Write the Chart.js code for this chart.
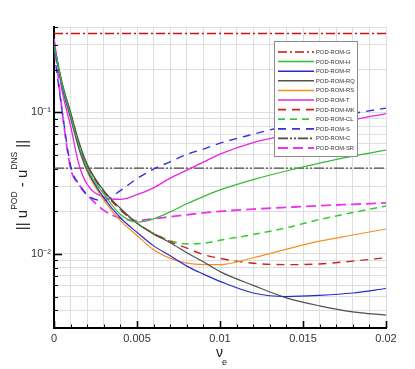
<!DOCTYPE html>
<html><head><meta charset="utf-8">
<script src="https://cdn.jsdelivr.net/npm/chart.js@4.4.1/dist/chart.umd.min.js"></script>
<style>html,body{margin:0;padding:0;background:#fff;}#wrap{width:415px;height:369px;position:relative;}</style>
</head><body><div id="wrap"><canvas id="c" width="415" height="369"></canvas></div>
<script>
// ---- data ----
const nu = [0, 0.0005, 0.001, 0.0015, 0.002, 0.003, 0.004, 0.005, 0.006, 0.007, 0.008, 0.009, 0.01, 0.012, 0.014, 0.016, 0.018, 0.02];
const romG  = [0.36, 0.36, 0.36, 0.36, 0.36, 0.36, 0.36, 0.36, 0.36, 0.36, 0.36, 0.36, 0.36, 0.36, 0.36, 0.36, 0.36, 0.36];
const romH  = [0.3, 0.155, 0.095, 0.058, 0.04, 0.0265, 0.019, 0.0168, 0.0177, 0.0198, 0.0226, 0.0254, 0.0283, 0.0335, 0.0385, 0.0437, 0.049, 0.054];
const romR  = [0.3, 0.15, 0.092, 0.056, 0.039, 0.025, 0.018, 0.0142, 0.0114, 0.0097, 0.0082, 0.0072, 0.0064, 0.0053, 0.005, 0.0051, 0.0053, 0.0057];
const romRQ = [0.3, 0.16, 0.1, 0.062, 0.043, 0.028, 0.021, 0.0165, 0.0138, 0.012, 0.0102, 0.0088, 0.0075, 0.006, 0.0049, 0.0043, 0.0039, 0.0037];
const romRS = [0.3, 0.15, 0.09, 0.055, 0.038, 0.024, 0.0172, 0.0135, 0.0107, 0.0093, 0.0086, 0.0084, 0.0084, 0.0094, 0.0108, 0.0123, 0.0136, 0.015];
const romT  = [0.33, 0.14, 0.08, 0.043, 0.031, 0.0252, 0.0243, 0.0262, 0.0293, 0.0343, 0.039, 0.0445, 0.0506, 0.061, 0.069, 0.078, 0.088, 0.098];
const romMK = [0.3, 0.155, 0.097, 0.06, 0.042, 0.0275, 0.0205, 0.0165, 0.014, 0.0122, 0.011, 0.0099, 0.0093, 0.0086, 0.0084, 0.0085, 0.0089, 0.0094];
const romCL = [0.3, 0.155, 0.097, 0.06, 0.042, 0.0275, 0.0205, 0.0165, 0.014, 0.0124, 0.0118, 0.0119, 0.0125, 0.0137, 0.0153, 0.0175, 0.0196, 0.0218];
const romS  = [0.27, 0.1, 0.042, 0.031, 0.026, 0.0238, 0.028, 0.034, 0.0397, 0.0447, 0.0504, 0.055, 0.0605, 0.07, 0.08, 0.089, 0.098, 0.107];
const romC  = [0.0403, 0.0403, 0.0403, 0.0403, 0.0403, 0.0403, 0.0403, 0.0403, 0.0403, 0.0403, 0.0403, 0.0403, 0.0403, 0.0403, 0.0403, 0.0403, 0.0403, 0.0403];
const romSR = [0.33, 0.1, 0.04, 0.031, 0.0262, 0.0203, 0.0179, 0.0172, 0.0177, 0.0183, 0.0189, 0.0195, 0.02, 0.0207, 0.0213, 0.0219, 0.0224, 0.0229];

const seriesNames = ['POD-ROM-G','POD-ROM-H','POD-ROM-R','POD-ROM-RQ','POD-ROM-RS','POD-ROM-T','POD-ROM-MK','POD-ROM-CL','POD-ROM-S','POD-ROM-C','POD-ROM-SR'];
const seriesValues = [romG, romH, romR, romRQ, romRS, romT, romMK, romCL, romS, romC, romSR];

const xMajor = [0, 0.005, 0.01, 0.015, 0.02];
const xTickLabels = ['0', '0.005', '0.01', '0.015', '0.02'];
const yMajor = [0.01, 0.1];
const yTickLabels = ['10\u207B\u00B2', '10\u207B\u00B9'];
const yGrid = [0.003,0.004,0.005,0.006,0.007,0.008,0.009,0.01,0.02,0.03,0.04,0.05,0.06,0.07,0.08,0.09,0.1,0.2,0.3,0.4];

// ---- styles ----
const styles = [
  {c:'#cc1111', d:[9,3,2,3], w:1.3},
  {c:'#33bb33', d:[], w:1.2},
  {c:'#2a2acc', d:[], w:1.2},
  {c:'#505050', d:[], w:1.2},
  {c:'#f5901e', d:[], w:1.2},
  {c:'#e626e6', d:[], w:1.3},
  {c:'#cc2222', d:[8,6], w:1.4},
  {c:'#33cc33', d:[7,5], w:1.5},
  {c:'#3333dd', d:[8,6], w:1.4},
  {c:'#4a4a4a', d:[10,2,2,2,2,2], w:1.3},
  {c:'#ee33ee', d:[10,5], w:1.8}
];
const xGrid = [];
for (let i = 0; i <= 20; i++) xGrid.push(+(i * 0.001).toFixed(3));

const datasets = seriesNames.map((n, k) => ({
  label: n,
  data: nu.map((x, i) => ({x: x, y: seriesValues[k][i]})),
  borderColor: styles[k].c,
  borderDash: styles[k].d,
  borderWidth: styles[k].w,
  pointRadius: 0,
  fill: false,
  cubicInterpolationMode: 'monotone'
}));

const FONT = 'Liberation Sans, Arial, Helvetica, sans-serif';

const decor = {
  id: 'decor',
  afterDatasetsDraw(chart) {
    const {ctx} = chart;
    // legend box
    const bx = 274, by = 41, bw = 83, bh = 115;
    ctx.save();
    ctx.fillStyle = '#fff';
    ctx.fillRect(bx, by, bw, bh);
    ctx.strokeStyle = '#8a8a8a';
    ctx.lineWidth = 1;
    ctx.strokeRect(bx + 0.5, by + 0.5, bw, bh);
    chart.data.datasets.forEach((ds, i) => {
      const yy = by + 11 + i * 9.6;
      ctx.strokeStyle = ds.borderColor;
      ctx.lineWidth = Math.max(1.5, ds.borderWidth + 0.3);
      ctx.setLineDash(ds.borderDash.length ? ds.borderDash : []);
      ctx.beginPath(); ctx.moveTo(bx + 4, yy); ctx.lineTo(bx + 40, yy); ctx.stroke();
      ctx.setLineDash([]);
      ctx.fillStyle = '#333';
      ctx.font = '5.8px ' + FONT;
      ctx.textBaseline = 'middle';
      ctx.fillText(ds.label, bx + 42, yy + 0.3);
    });
    ctx.restore();
  },
  afterDraw(chart) {
    const {ctx, chartArea: a, scales: {x, y}} = chart;
    ctx.save();
    ctx.strokeStyle = '#000';
    xGrid.forEach(v => {
      const px = Math.round(x.getPixelForValue(v)) + 0.5;
      const major = xMajor.some(m => Math.abs(m - v) < 1e-9);
      ctx.lineWidth = major ? 1.6 : 1;
      ctx.beginPath(); ctx.moveTo(px, a.bottom); ctx.lineTo(px, a.bottom - (major ? 7 : 3.5)); ctx.stroke();
    });
    yGrid.forEach(v => {
      const py = Math.round(y.getPixelForValue(v)) + 0.5;
      const major = yMajor.some(m => Math.abs(m - v) < 1e-12);
      ctx.lineWidth = major ? 1.6 : 1;
      ctx.beginPath(); ctx.moveTo(a.left, py); ctx.lineTo(a.left + (major ? 8 : 4), py); ctx.stroke();
    });
    // x title: nu_e
    ctx.fillStyle = '#222';
    ctx.textBaseline = 'alphabetic';
    ctx.textAlign = 'left';
    ctx.font = '14px ' + FONT;
    ctx.fillText('\u03BD', 216, 357);
    ctx.font = '9px ' + FONT;
    ctx.fillText('e', 222, 365);
    // y title: || u^POD - u^DNS ||
    ctx.translate(27, 185);
    ctx.rotate(-Math.PI / 2);
    const parts = [['|| u', 0], ['POD', 1], [' - u', 0], ['DNS', 1], [' ||', 0]];
    const fontOf = s => s ? '8.5px ' + FONT : '15px ' + FONT;
    let total = 0;
    parts.forEach(p => { ctx.font = fontOf(p[1]); total += ctx.measureText(p[0]).width; });
    let cx = -total / 2;
    parts.forEach(p => {
      ctx.font = fontOf(p[1]);
      ctx.fillText(p[0], cx, p[1] ? -10.5 : 0);
      cx += ctx.measureText(p[0]).width;
    });
    ctx.restore();
  }
};

new Chart(document.getElementById('c'), {
  type: 'line',
  data: {datasets},
  options: {
    responsive: false,
    animation: false,
    devicePixelRatio: 1,
    layout: {padding: {top: 27, right: 29, left: 0, bottom: 0}},
    plugins: {legend: {display: false}, tooltip: {enabled: false}},
    scales: {
      x: {
        type: 'linear', min: 0, max: 0.02,
        afterBuildTicks: s => { s.ticks = xGrid.map(v => ({value: v})); },
        afterFit: s => { s.height = 41; },
        ticks: {
          autoSkip: false, maxRotation: 0, padding: 4, color: '#333',
          font: {size: 11, family: FONT},
          callback: v => { const i = xMajor.findIndex(m => Math.abs(m - v) < 1e-9); return i >= 0 ? xTickLabels[i] : ''; }
        },
        grid: {color: '#dedede', drawTicks: false, lineWidth: 1},
        border: {color: '#000', width: 2}
      },
      y: {
        type: 'logarithmic', min: 0.003, max: 0.4,
        afterBuildTicks: s => { s.ticks = yGrid.map(v => ({value: v})); },
        afterFit: s => { s.width = 54; },
        ticks: {
          autoSkip: false, padding: 3, color: '#333',
          font: {size: 11, family: FONT},
          callback: v => { const i = yMajor.findIndex(m => Math.abs(m - v) < 1e-12); return i >= 0 ? yTickLabels[i] : ''; }
        },
        grid: {color: '#dedede', drawTicks: false, lineWidth: 1},
        border: {color: '#000', width: 2}
      }
    }
  },
  plugins: [decor]
});
</script>
</body></html>
